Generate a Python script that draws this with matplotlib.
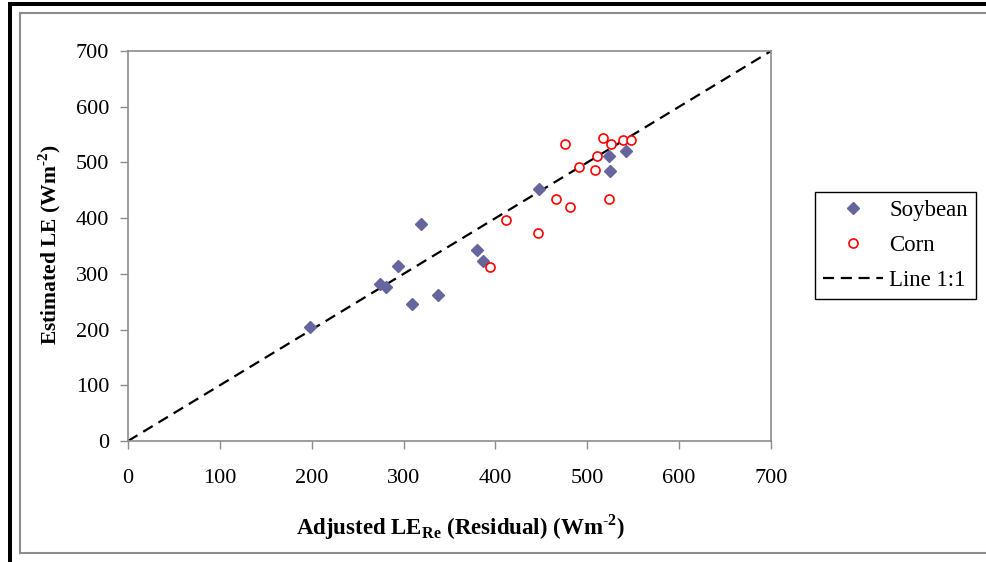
import matplotlib.pyplot as plt
from matplotlib.patches import Rectangle
from matplotlib.lines import Line2D

plt.rcParams['font.family'] = ['Liberation Serif', 'DejaVu Serif']
plt.rcParams['mathtext.fontset'] = 'custom'
plt.rcParams['mathtext.rm'] = 'Liberation Serif'
plt.rcParams['mathtext.bf'] = 'Liberation Serif:bold'

# Soybean: adjusted residual LE vs estimated LE (W m-2)
soy_x = [198, 274, 281, 294, 309, 319, 337, 380, 387, 447, 524, 525, 542]
soy_y = [204, 282, 276, 315, 246, 390, 262, 342, 323, 452, 512, 485, 520]

# Corn
corn_x = [394, 411, 446, 466, 476, 481, 491, 508, 511, 517, 524, 526, 539, 548]
corn_y = [313, 396, 374, 434, 533, 420, 492, 486, 511, 544, 434, 533, 540, 541]

one_to_one = [0, 700]
ticks = [0, 100, 200, 300, 400, 500, 600, 700]

W, H = 986, 562
fig = plt.figure(figsize=(W / 100, H / 100), dpi=100)

# outer frame: heavy black on top/left, thin grey inner border
fig.add_artist(Rectangle((8 / W, 0), 4 / W, 1 - 2 / H, transform=fig.transFigure,
                         facecolor='black', edgecolor='none'))
fig.add_artist(Rectangle((8 / W, 1 - 6 / H), 1, 4 / H, transform=fig.transFigure,
                         facecolor='black', edgecolor='none'))
grey = '#8c8c8c'
fig.add_artist(Line2D([19.5 / W, 1], [1 - 13 / H, 1 - 13 / H], transform=fig.transFigure,
                      color=grey, lw=1.5))
fig.add_artist(Line2D([19.5 / W, 19.5 / W], [1 - 13 / H, 1 - 553 / H], transform=fig.transFigure,
                      color=grey, lw=1.5))
fig.add_artist(Line2D([19.5 / W, 1], [1 - 553 / H, 1 - 553 / H], transform=fig.transFigure,
                      color=grey, lw=1.5))

ax = fig.add_axes([128 / W, 1 - 441 / H, (771 - 128) / W, (441 - 51) / H])

ax.plot(soy_x, soy_y, linestyle='none', marker='D', markersize=6,
        color='#66669e', markeredgecolor='#66669e', label='Soybean', zorder=3)
ax.plot(corn_x, corn_y, linestyle='none', marker='o', markersize=6.5,
        markerfacecolor='white', markeredgecolor='#ff0000', markeredgewidth=1.2,
        label='Corn', zorder=4)
ax.plot(one_to_one, one_to_one, color='black', lw=1.6, dashes=(5, 3),
        label='Line 1:1', zorder=2)

ax.set_xlim(0, 700)
ax.set_ylim(0, 700)
ax.set_xticks(ticks)
ax.set_yticks(ticks)
for s in ax.spines.values():
    s.set_color(grey)
    s.set_linewidth(1.2)
ax.tick_params(axis='both', direction='out', length=5.5, width=1, color=grey,
               labelsize=16, labelcolor='black')
ax.tick_params(axis='x', pad=15)
ax.tick_params(axis='y', pad=8)

fig.text(460 / W, 1 - 527 / H,
         r'Adjusted LE$_{\mathbf{Re}}$ (Residual) (Wm$^{\mathbf{\text{-}2}}$)',
         ha='center', va='center', fontsize=16.5, fontweight='bold')
fig.text(50 / W, 1 - 245 / H, r'Estimated LE (Wm$^{\mathbf{\text{-}2}}$)',
         ha='center', va='center', rotation=90, fontsize=15.5, fontweight='bold')

leg = ax.legend(loc='upper left', bbox_to_anchor=(815 / W, 1 - 192 / H),
                bbox_transform=fig.transFigure, borderaxespad=0, fancybox=False,
                edgecolor='black', fontsize=16.5, handlelength=2.6,
                handletextpad=0.3, labelspacing=0.6, borderpad=0.35,
                framealpha=1)
leg.get_frame().set_linewidth(1.0)

fig.savefig('out.png', dpi=100)
